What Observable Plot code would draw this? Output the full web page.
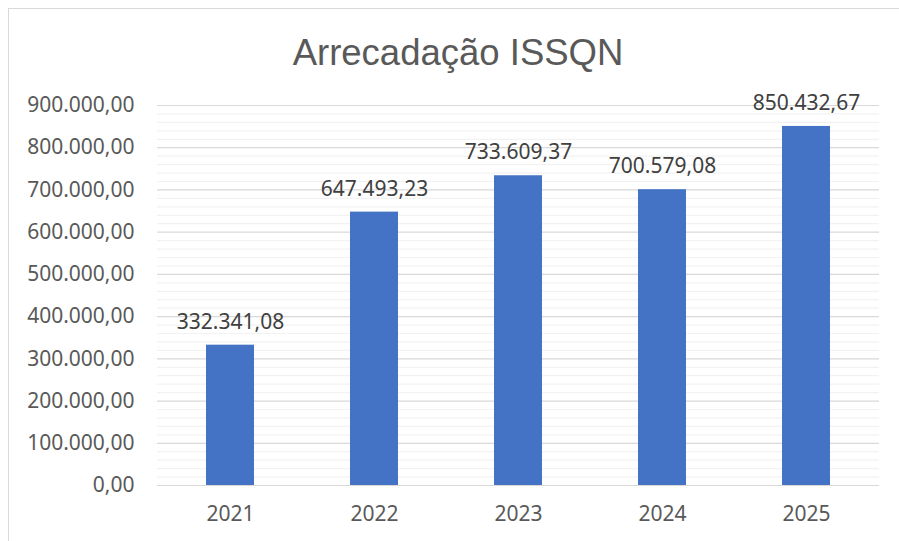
<!DOCTYPE html>
<html>
<head>
<meta charset="utf-8">
<script src="https://cdn.jsdelivr.net/npm/d3@7"></script>
<script src="https://cdn.jsdelivr.net/npm/@observablehq/plot@0.6"></script>
<style>
  html, body { margin: 0; padding: 0; background: #fff; overflow: hidden; }
  #wrap { position: relative; width: 899px; height: 541px; }
  #frame { position: absolute; left: 8px; top: 8px; width: 1000px; height: 1000px; border: 1.5px solid #d9d9d9; box-sizing: border-box; }
  #title { position: absolute; left: 0; top: 0; width: 916px; height: 60px; text-align: center; font-family: "Liberation Sans", Arial, sans-serif; font-size: 36.5px; color: #595959; line-height: 106px; z-index: 2; }
  #chart { position: absolute; left: 0; top: 60px; }
  svg text { font-family: "Noto Sans", "Open Sans", sans-serif; }
</style>
</head>
<body>
<div id="wrap">
  <div id="frame"></div>
  <div id="title">Arrecadação ISSQN</div>
  <div id="chart"></div>
</div>
<script>
const years = ["2021", "2022", "2023", "2024", "2025"];
const values = [332341.08, 647493.23, 733609.37, 700579.08, 850432.67];
const yTicks = [0, 100000, 200000, 300000, 400000, 500000, 600000, 700000, 800000, 900000];
const minorTicks = d3.range(0, 900001, 20000).filter(v => v % 100000 !== 0);

const data = years.map((y, i) => ({year: y, value: values[i]}));
const br = d3.formatLocale({decimal: ",", thousands: ".", grouping: [3], currency: ["R$", ""]});
const fmt = br.format(",.2f");

const chart = Plot.plot({
  width: 899,
  height: 481,
  marginTop: 45,
  marginBottom: 56,
  marginLeft: 157,
  marginRight: 20,
  style: {fontSize: "21px", color: "#595959", background: "transparent", overflow: "visible"},
  x: {domain: years, paddingInner: 0.667, paddingOuter: 0.333, label: null},
  y: {domain: [0, 900000], label: null},
  marks: [
    Plot.ruleY(minorTicks, {stroke: "#f2f2f2", strokeWidth: 1.2}),
    Plot.ruleY(yTicks, {stroke: "#d9d9d9", strokeWidth: 1.2}),
    Plot.barY(data, {x: "year", y: "value", fill: "#4472c4"}),
    Plot.axisY(yTicks, {tickSize: 0, tickPadding: 23, tickFormat: fmt, fill: "#595959", fontSize: 21, label: null}),
    Plot.axisX({tickSize: 0, tickPadding: 21, fill: "#595959", fontSize: 21, label: null}),
    Plot.text(data, {x: "year", y: "value", text: d => fmt(d.value), dy: -23, fill: "#404040", fontSize: 21})
  ]
});
document.getElementById("chart").appendChild(chart);
</script>
</body>
</html>
